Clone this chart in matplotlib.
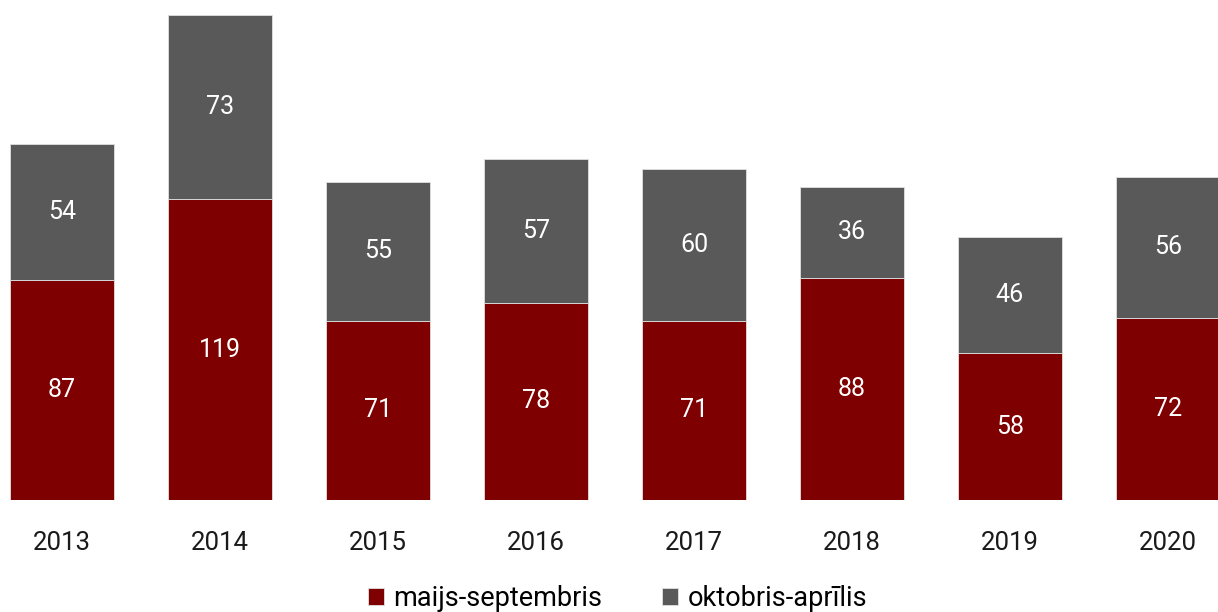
import numpy as np
import matplotlib
matplotlib.use('Agg')
import matplotlib.pyplot as plt

plt.rcParams['font.family'] = ['Roboto', 'DejaVu Sans']

years = ['2013', '2014', '2015', '2016', '2017', '2018', '2019', '2020']
summer = [87, 119, 71, 78, 71, 88, 58, 72]   # maijs-septembris
winter = [54, 73, 55, 57, 60, 36, 46, 56]    # oktobris-aprīlis

red = '#7f0000'
grey = '#595959'

fig = plt.figure(figsize=(12.18, 6.12), dpi=100)
ax = fig.add_axes([0, 112 / 612, 1, 500 / 612])

x = np.arange(len(years))
w = 0.66
ax.bar(x, summer, w, color=red, edgecolor='#e0e0e0', linewidth=0.6, label='maijs-septembris')
ax.bar(x, winter, w, bottom=summer, color=grey, edgecolor='#e0e0e0', linewidth=0.6, label='oktobris-aprīlis')

for i in range(len(years)):
    ax.text(x[i], summer[i] / 2, str(summer[i]), ha='center', va='center', color='white', fontsize=18)
    ax.text(x[i], summer[i] + winter[i] / 2, str(winter[i]), ha='center', va='center', color='white', fontsize=18)

ax.set_xlim(-62 / 158, (1218 - 62) / 158)
ax.set_ylim(0, 500 / 2.526)
ax.set_xticks(x)
ax.set_xticklabels(years, fontsize=18.5, color='#1a1a1a')
ax.tick_params(axis='x', length=0, pad=22)
ax.set_yticks([])
for s in ax.spines.values():
    s.set_visible(False)

fig.legend(loc='lower center', bbox_to_anchor=(0.507, -0.04), ncol=2, frameon=False,
           fontsize=19.5, handlelength=0.6, handleheight=0.6, handletextpad=0.35, columnspacing=2.2)

fig.savefig('out.png', dpi=100)
